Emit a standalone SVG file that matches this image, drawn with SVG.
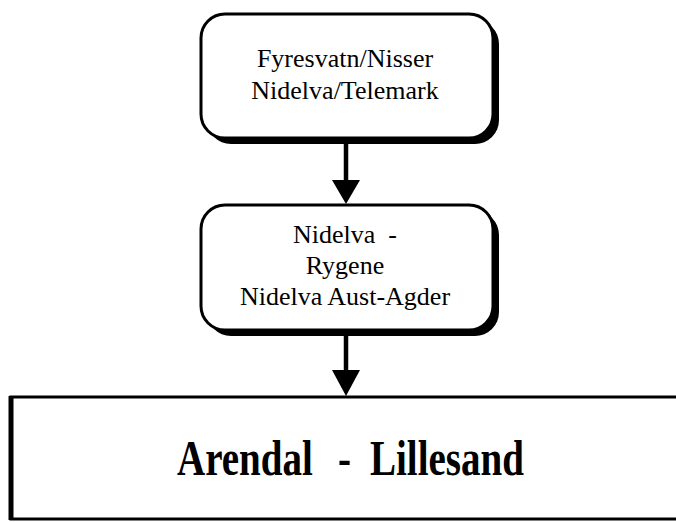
<svg xmlns="http://www.w3.org/2000/svg" width="676" height="522" viewBox="0 0 676 522">
<defs>
<style>
.box{fill:#fff;stroke:#000;stroke-width:3}
.shadow{fill:#000}
.t{font-family:"Liberation Serif","Times New Roman",serif;font-size:26px;fill:#000;text-anchor:middle}
.big{font-family:"Liberation Serif","Times New Roman",serif;font-size:39px;font-weight:bold;fill:#000}
.conn{stroke:#000;stroke-width:4.5;fill:none}
.head{fill:#000}
</style>
</defs>
<rect width="676" height="522" fill="#fff"/>
<g id="connectors">
<line class="conn" x1="346" y1="142" x2="346" y2="181"/>
<path class="head" d="M332,180 L360,180 L346,204 Z"/>
<line class="conn" x1="346" y1="336" x2="346" y2="371"/>
<path class="head" d="M332,370 L360,370 L346,396 Z"/>
</g>
<g id="node-fyresvatn">
<rect class="shadow" x="207" y="20" width="292" height="124" rx="24"/>
<rect class="box" x="201" y="14" width="292" height="124" rx="24"/>
<text class="t" x="345" y="67">Fyresvatn/Nisser</text>
<text class="t" x="345" y="99">Nidelva/Telemark</text>
</g>
<g id="node-nidelva">
<rect class="shadow" x="207" y="211" width="292" height="125" rx="24"/>
<rect class="box" x="201" y="205" width="292" height="125" rx="24"/>
<text class="t" x="345" y="243" xml:space="preserve">Nidelva  -</text>
<text class="t" x="345" y="274">Rygene</text>
<text class="t" x="345" y="305">Nidelva Aust-Agder</text>
</g>
<g id="node-arendal">
<rect class="box" x="11" y="397" width="680" height="122"/>
<line x1="11" y1="396" x2="11" y2="520" stroke="#000" stroke-width="5"/>
<g transform="translate(0,475) scale(1,1.28)">
<text class="big" x="177" y="0">Arendal</text>
<text class="big" x="338" y="0">-</text>
<text class="big" x="370" y="0">Lillesand</text>
</g>
</g>
</svg>
